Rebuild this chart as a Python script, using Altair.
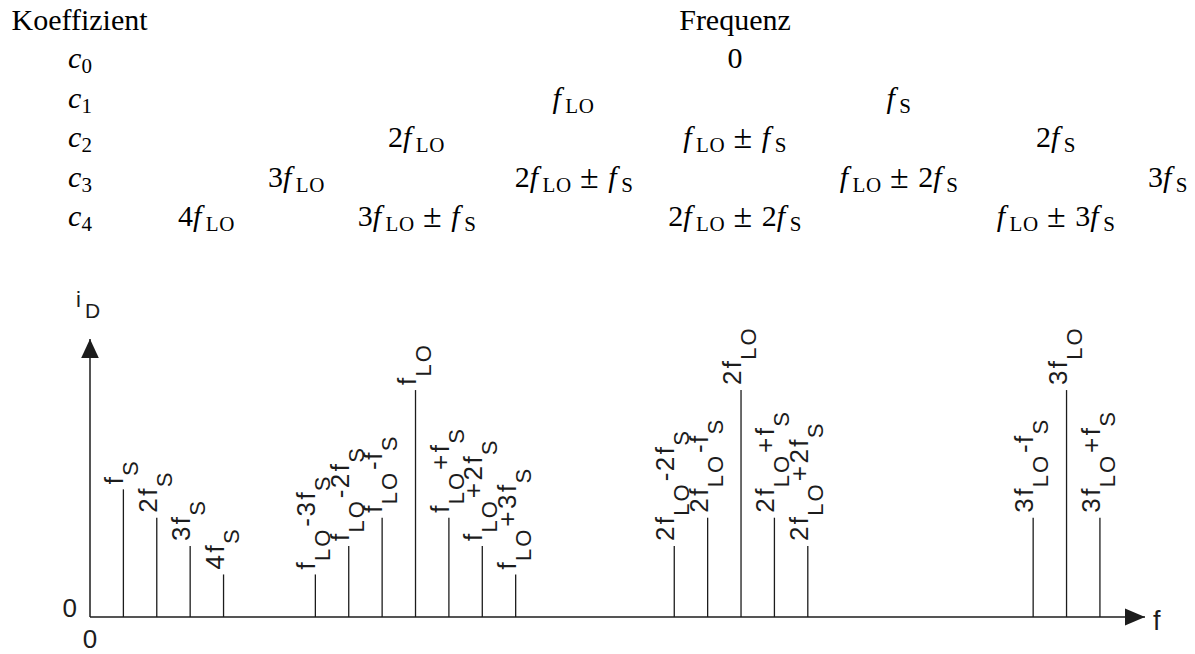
import altair as alt
import pandas as pd

# ---------------------------------------------------------------------------
# Spectrum of a diode mixer: every line sits at m*f_LO + n*f_S
# ---------------------------------------------------------------------------
F_S = 1.0          # signal frequency (unit of the f axis)
F_LO = 9.75        # local-oscillator frequency in units of f_S

lo_order = [0, 0, 0, 0, 1, 1, 1, 1, 1, 1, 1, 2, 2, 2, 2, 2, 3, 3, 3]
s_order = [1, 2, 3, 4, -3, -2, -1, 0, 1, 2, 3, -2, -1, 0, 1, 2, -1, 0, 1]
amplitude = [4.5, 3.5, 2.5, 1.5,
             1.5, 2.5, 3.5, 8.0, 3.5, 2.5, 1.5,
             2.5, 3.5, 8.0, 3.5, 2.5,
             3.5, 8.0, 3.5]
line_labels = ["f_{S}", "2f_{S}", "3f_{S}", "4f_{S}",
               "f_{LO}-3f_{S}", "f_{LO}-2f_{S}", "f_{LO}-f_{S}", "f_{LO}",
               "f_{LO}+f_{S}", "f_{LO}+2f_{S}", "f_{LO}+3f_{S}",
               "2f_{LO}-2f_{S}", "2f_{LO}-f_{S}", "2f_{LO}",
               "2f_{LO}+f_{S}", "2f_{LO}+2f_{S}",
               "3f_{LO}-f_{S}", "3f_{LO}", "3f_{LO}+f_{S}"]

# Coefficient table: which frequencies each power-series coefficient produces
coef_names = ["c_{0}", "c_{1}", "c_{2}", "c_{3}", "c_{4}"]
coef_freqs = [["0"],
              ["f_{LO}", "f_{S}"],
              ["2f_{LO}", "f_{LO} ± f_{S}", "2f_{S}"],
              ["3f_{LO}", "2f_{LO} ± f_{S}", "f_{LO} ± 2f_{S}", "3f_{S}"],
              ["4f_{LO}", "3f_{LO} ± f_{S}", "2f_{LO} ± 2f_{S}", "f_{LO} ± 3f_{S}"]]
header_left = "Koeffizient"
header_right = "Frequenz"

# ---------------------------------------------------------------------------
# Layout
# ---------------------------------------------------------------------------
INK = "#1c1c1c"
F_END = 31.6                 # end of the f axis (arrow tip)
Y_END = 9.8                  # end of the i_D axis (arrow tip)
X_RANGE = [90, 1145]
Y_RANGE = [617, 339]

LBL_MAIN, LBL_SUB, LBL_SUB_DY, LBL_GAP, LBL_STRETCH = 26, 22, 15, 5, 1.17
SANS = "Liberation Sans"
SERIF = "Liberation Serif"

TAB_MAIN, TAB_SUB, TAB_SUB_DY = 30, 21, 5
TAB_PM_SIZE = 34
TAB_HEADER_Y = 30
TAB_ROW_Y0, TAB_ROW_STEP = 68, 39.5
TAB_NAME_X = 68
TAB_COL_X = [207, 297, 417, 574, 735, 899, 1056, 1168]

# advance widths (em) for the sans labels
HELV = {"f": 0.278, "L": 0.556, "O": 0.778, "S": 0.667, "-": 0.333,
        "+": 0.584, "2": 0.556, "3": 0.556, "4": 0.556}
# advance widths (em) for the typeset table
MATHW = {"f": 0.43, "c": 0.45, "L": 0.64, "O": 0.80, "S": 0.58,
         "±": 0.70, " ": 0.24}


def parse(expr):
    """Split 'f_{LO}-3f_{S}' into [(text, is_subscript), ...]."""
    runs, i = [], 0
    while i < len(expr):
        if expr[i] == "_":
            j = expr.index("}", i)
            runs.append((expr[i + 2:j], True))
            i = j + 1
        else:
            j = i
            while j < len(expr) and expr[j] != "_":
                j += 1
            runs.append((expr[i:j], False))
            i = j
    return runs


# rotated labels above each spectral line, one glyph per row
lines = pd.DataFrame({
    "freq": [m * F_LO + n * F_S for m, n in zip(lo_order, s_order)],
    "amp": amplitude,
    "label": line_labels,
})
glyphs = []
for _, r in lines.iterrows():
    adv = LBL_GAP
    for text, sub in parse(r["label"]):
        size = LBL_SUB if sub else LBL_MAIN
        for ch in text:
            glyphs.append({"freq": r["freq"], "amp": r["amp"], "ch": ch,
                           "size": size, "ox": adv,
                           "oy": LBL_SUB_DY if sub else 0})
            adv += HELV[ch] * size * LBL_STRETCH
glyphs = pd.DataFrame(glyphs)


def typeset(expr):
    """Glyph list (ch, style, size, x, dy) of a math expression and its width."""
    out, x = [], 0.0
    for text, sub in parse(expr):
        size = TAB_SUB if sub else TAB_MAIN
        for ch in text:
            w = MATHW.get(ch, 0.5) * size
            if ch != " ":
                style = "italic" if (ch in "fc" and not sub) else "normal"
                gsize = TAB_PM_SIZE if ch == "±" else size
                gdy = 1 if ch == "±" else (TAB_SUB_DY if sub else 0)
                out.append((ch, style, gsize, x, gdy))
            x += w
    return out, x


cells = [{"ch": header_left, "style": "normal", "size": TAB_MAIN,
          "px": 11.5, "py": TAB_HEADER_Y}]
hw = 3.72 * TAB_MAIN
cells.append({"ch": header_right, "style": "normal", "size": TAB_MAIN,
              "px": TAB_COL_X[4] - hw / 2, "py": TAB_HEADER_Y})
for k, (name, freqs) in enumerate(zip(coef_names, coef_freqs)):
    base = TAB_ROW_Y0 + k * TAB_ROW_STEP
    g, _ = typeset(name)
    for ch, style, size, x, dy in g:
        cells.append({"ch": ch, "style": style, "size": size,
                      "px": TAB_NAME_X + x, "py": base + dy})
    for j, expr in enumerate(freqs):
        col = (4 - k) + 2 * j
        g, w = typeset(expr)
        x0 = TAB_COL_X[col] - w / 2
        for ch, style, size, x, dy in g:
            cells.append({"ch": ch, "style": style, "size": size,
                          "px": x0 + x, "py": base + dy})
cells = pd.DataFrame(cells)

xs = alt.Scale(domain=[0, F_END], range=X_RANGE)
ys = alt.Scale(domain=[0, Y_END], range=Y_RANGE)

spectrum = alt.Chart(lines).mark_rule(color=INK, strokeWidth=1.3).encode(
    x=alt.X("freq:Q", scale=xs, axis=None),
    y=alt.Y("amp:Q", scale=ys, axis=None),
    y2=alt.datum(0),
)

axes_df = pd.DataFrame({"x0": [0, 0], "x1": [F_END, 0],
                        "y0": [0, 0], "y1": [0, Y_END]})
axes = alt.Chart(axes_df).mark_rule(color=INK, strokeWidth=1.5).encode(
    x=alt.X("x0:Q", scale=xs, axis=None), x2="x1:Q",
    y=alt.Y("y0:Q", scale=ys, axis=None), y2="y1:Q",
)

tips = pd.DataFrame({"x": [F_END, 0], "y": [0, Y_END],
                     "shape": ["M0,0 L-2,-0.85 L-2,0.85 Z",
                               "M0,0 L0.88,1.9 L-0.88,1.9 Z"]})
arrows = alt.Chart(tips).mark_point(filled=True, color=INK, opacity=1,
                                    size=400, strokeWidth=0).encode(
    x=alt.X("x:Q", scale=xs, axis=None),
    y=alt.Y("y:Q", scale=ys, axis=None),
    shape=alt.Shape("shape:N", scale=None),
)

labels = alt.Chart(glyphs).mark_text(
    angle=270, align="left", baseline="alphabetic", font=SANS, color=INK,
    dx=alt.ExprRef(expr="datum.ox"), dy=alt.ExprRef(expr="datum.oy"),
).encode(
    x=alt.X("freq:Q", scale=xs, axis=None),
    y=alt.Y("amp:Q", scale=ys, axis=None),
    text="ch:N",
    size=alt.Size("size:Q", scale=None),
)

axis_text_df = pd.DataFrame({
    "x": [0, 0, F_END, 0, 0],
    "y": [0, 0, 0, Y_END, Y_END],
    "t": ["0", "0", "f", "i", "D"],
    "size": [26, 26, 27, 22, 21],
    "ox": [-13, 0, 8, -14, -5],
    "oy": [0, 31, 13, -32, -21],
    "al": ["right", "center", "left", "left", "left"],
})
axis_text = alt.Chart(axis_text_df).mark_text(
    font=SANS, color=INK, baseline="alphabetic",
    dx=alt.ExprRef(expr="datum.ox"), dy=alt.ExprRef(expr="datum.oy"),
    align=alt.ExprRef(expr="datum.al"),
).encode(
    x=alt.X("x:Q", scale=xs, axis=None),
    y=alt.Y("y:Q", scale=ys, axis=None),
    text="t:N",
    size=alt.Size("size:Q", scale=None),
)

table = alt.Chart(cells).mark_text(
    font=SERIF, color="black", baseline="alphabetic", align="left",
    fontStyle=alt.ExprRef(expr="datum.style"),
).encode(
    x=alt.X("px:Q", scale=None, axis=None),
    y=alt.Y("py:Q", scale=None, axis=None),
    text="ch:N",
    size=alt.Size("size:Q", scale=None),
)

chart = alt.layer(axes, spectrum, arrows, labels, axis_text, table).resolve_scale(
    x="independent", y="independent", size="independent", shape="independent"
).properties(
    width=1195, height=654, padding=0, autosize=alt.AutoSizeParams(type="none"),
    background="white",
).configure_view(stroke=None)

chart.save("out.html", embed_options={"renderer": "svg", "actions": False})
